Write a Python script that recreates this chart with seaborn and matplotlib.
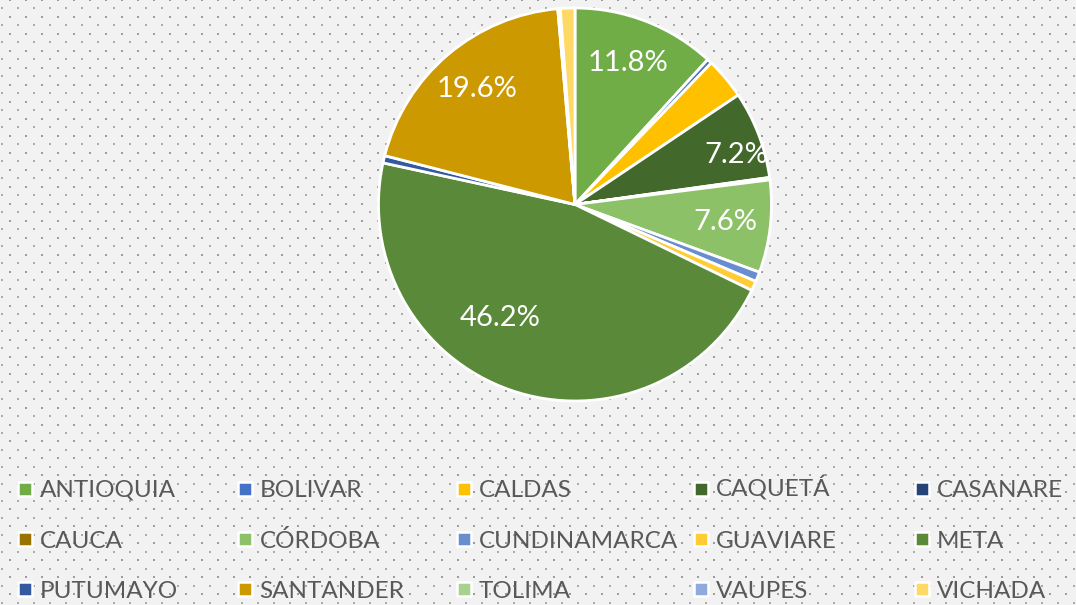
import numpy as np
import matplotlib.pyplot as plt
import seaborn as sns

# departments in legend / slice order (clockwise from 12 o'clock)
departments = ['ANTIOQUIA', 'BOLIVAR', 'CALDAS', 'CAQUETÁ', 'CASANARE',
               'CAUCA', 'CÓRDOBA', 'CUNDINAMARCA', 'GUAVIARE', 'META',
               'PUTUMAYO', 'SANTANDER', 'TOLIMA', 'VAUPES', 'VICHADA']
shares = [11.8, 0.4, 3.4, 7.2, 0.1,
          0.1, 7.6, 0.8, 0.8, 46.2,
          0.6, 19.6, 0.1, 0.1, 1.2]
colors = ['#70AD47', '#4472C4', '#FFC000', '#43682B', '#264478',
          '#997300', '#8CC168', '#698ED0', '#FFCD33', '#5A8A39',
          '#335AA1', '#CC9A00', '#A9D18E', '#8FAADC', '#FFD966']

sns.set_style('white')
plt.rcParams['font.family'] = ['Lato', 'DejaVu Sans']

W, H = 1076, 605
fig = plt.figure(figsize=(W / 100, H / 100), dpi=100, facecolor='#F2F2F2')

# full-figure axes in pixel units: dotted background + legend
bg = fig.add_axes([0, 0, 1, 1], zorder=-5)
bg.set_xlim(0, W)
bg.set_ylim(H, 0)
bg.axis('off')
rows = np.arange(0, H + 9, 8.49)
for i, y in enumerate(rows):
    if i % 2 == 0:
        xs = np.arange(10, W, 16)
        bg.scatter(xs, np.full_like(xs, y, dtype=float), s=2.0, marker='s',
                   color='#9C9C9C', linewidths=0)
    else:
        xs = np.arange(2, W, 16)
        bg.scatter(xs, np.full_like(xs, y, dtype=float), s=1.4, marker='s',
                   color='#ABABAB', linewidths=0)

# pie
R = 196.5
cx, cy = 575, 204.5
ax = fig.add_axes([(cx - R) / W, (H - cy - R) / H, 2 * R / W, 2 * R / H])
total = sum(shares)


def fmt(pct):
    v = pct * total / 100
    return f'{v:.1f}%' if v >= 5 else ''


wedges, texts, autotexts = ax.pie(
    shares, colors=colors, startangle=90, counterclock=False,
    autopct=fmt, pctdistance=0.77,
    wedgeprops=dict(edgecolor='white', linewidth=2.0),
    textprops=dict(color='white', fontsize=21))
for w in wedges:
    w.set_clip_on(False)
ax.set_xlim(-1, 1)
ax.set_ylim(-1, 1)

# a few labels sit off the wedge midline in the original
autotexts[departments.index('META')].set_position((-0.38, -0.58))
autotexts[departments.index('ANTIOQUIA')].set_position((0.27, 0.72))
autotexts[departments.index('CAQUETÁ')].set_position((0.82, 0.25))

# legend: 5 columns x 3 rows, filled row by row
col_x = [17.5, 237.5, 456.5, 693.5, 914.5]
row_y = [488.5, 539, 589]
for i, (name, col) in enumerate(zip(departments, colors)):
    r, c = divmod(i, 5)
    bg.scatter([col_x[c] + 7], [row_y[r]], s=105, marker='s', color=col,
               edgecolors='white', linewidths=1.8, zorder=3)
    bg.text(col_x[c] + 22, row_y[r] + 8.5, name, fontsize=17.5,
            color='#595959', va='baseline', ha='left', zorder=3)

fig.savefig('out.png', dpi=100, facecolor=fig.get_facecolor())
